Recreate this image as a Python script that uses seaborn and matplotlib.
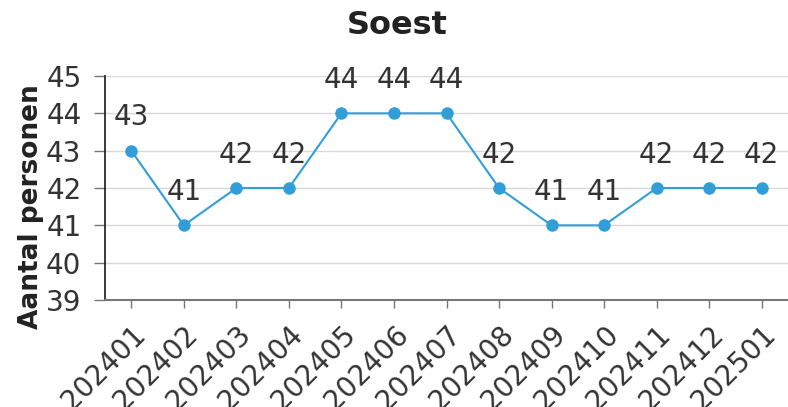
import matplotlib
matplotlib.use("Agg")
import matplotlib.pyplot as plt
import seaborn as sns
import pandas as pd

periods = ["202401", "202402", "202403", "202404", "202405", "202406", "202407",
           "202408", "202409", "202410", "202411", "202412", "202501"]
values = [43, 41, 42, 42, 44, 44, 44, 42, 41, 41, 42, 42, 42]
title = "Soest"
ylabel = "Aantal personen"
yticks = [39, 40, 41, 42, 43, 44, 45]

sns.set_theme(style="white")
plt.rcParams['font.family'] = ['DejaVu Sans']

df = pd.DataFrame({"periode": periods, "aantal": values})
df["x"] = range(len(df))

fig = plt.figure(figsize=(7.88, 4.07), dpi=100)
ax = fig.add_axes([105/788, 1-300/407, (788-105)/788, (300-76)/407])

color = "#329ed8"
sns.lineplot(data=df, x="x", y="aantal", ax=ax, color=color, linewidth=1.5,
             marker="o", markersize=9, markeredgewidth=0)

for xi, v in zip(df["x"], df["aantal"]):
    ax.annotate(str(v), (xi, v), xytext=(0, 14), textcoords="offset points",
                ha="center", va="bottom", fontsize=20, color="#333333")

ax.set_xlim(-0.5, 12.5)
ax.set_ylim(39, 45)
ax.set_yticks(yticks)
ax.set_xticks(list(df["x"]))
ax.set_xticklabels(periods, rotation=45, ha="right", rotation_mode="anchor")
ax.tick_params(axis="both", labelsize=20, labelcolor="#333333", length=7,
               width=1, color="#777777", direction="out", left=True, bottom=True)
ax.tick_params(axis="x", pad=9, length=6)
ax.tick_params(axis="y", pad=9, length=8)
ax.grid(axis="y", color="#d9d9d9", linewidth=1)
ax.set_axisbelow(True)
for s in ["top", "right"]:
    ax.spines[s].set_visible(False)
ax.spines["left"].set_color("#222222")
ax.spines["bottom"].set_color("#777777")
ax.spines["bottom"].set_linewidth(1.5)
ax.set_xlabel("")
ax.set_ylabel(ylabel, fontsize=19, fontweight="bold", color="#222222")
ax.yaxis.set_label_coords(-0.09, 0.415)

fig.text(397/788, 1 - 25/407, title, ha="center", va="center",
         fontsize=23, fontweight="bold", color="#222222")

fig.savefig("out.png", dpi=100)
